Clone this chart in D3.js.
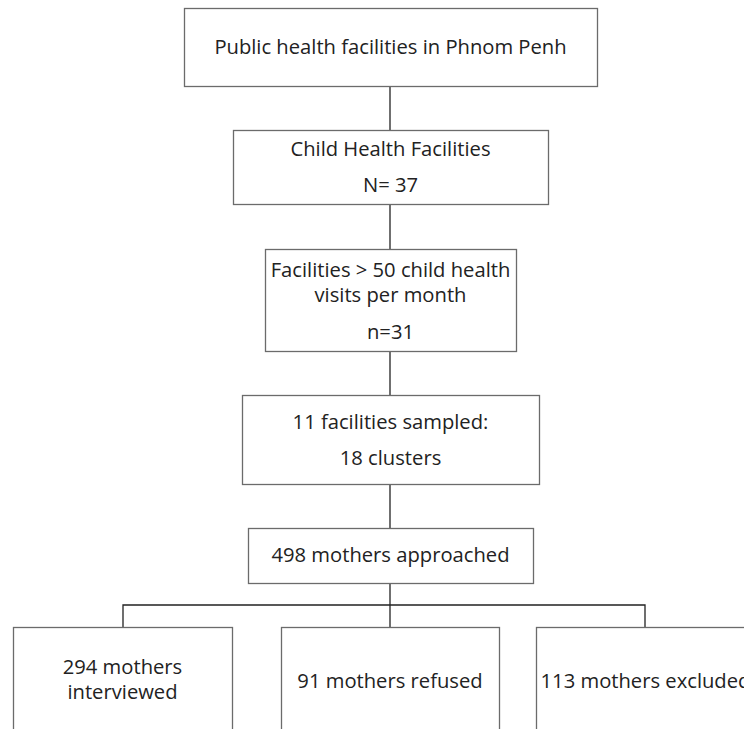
<!DOCTYPE html>
<meta charset="utf-8">
<body style="margin:0;background:#fff">
<script src="https://cdn.jsdelivr.net/npm/d3@7"></script>
<style>
svg { display:block; }
.box { fill:#fff; stroke:#6b6b6b; stroke-width:1.3; }
.link { fill:none; stroke:#222; stroke-width:1.3; }
.lbl { font-family:"Open Sans", sans-serif; font-size:20.2px; fill:#222; text-anchor:middle; }
</style>
<svg id="chart" width="744" height="729"></svg>
<script>
// flow steps (text only)
var steps = [
  ["Public health facilities in Phnom Penh"],
  ["Child Health Facilities", "N= 37"],
  ["Facilities > 50 child health", "visits per month", "n=31"],
  ["11 facilities sampled:", "18 clusters"],
  ["498 mothers approached"]
];
var outcomes = [
  ["294 mothers", "interviewed"],
  ["91 mothers refused"],
  ["113 mothers excluded"]
];

// layout, kept apart from the text
var stepBox = [
  {x0:184, x1:597, y0:8,   y1:86,  ly:[47]},
  {x0:233, x1:548, y0:130, y1:204, ly:[149,185]},
  {x0:265, x1:516, y0:249, y1:351, ly:[270,295,332]},
  {x0:242, x1:539, y0:395, y1:484, ly:[422,458]},
  {x0:248, x1:533, y0:528, y1:583, ly:[555]}
];
var outBox = [
  {x0:13,  x1:232, y0:627, y1:740, ly:[667,692]},
  {x0:281, x1:499, y0:627, y1:740, ly:[681]},
  {x0:536, x1:755, y0:627, y1:740, ly:[681]}
];
var midX = 390, branchY = 605;

var svg = d3.select("#chart");

// connectors between steps
var links = [];
for (var i = 0; i < steps.length - 1; i++) {
  links.push([[midX, stepBox[i].y1], [midX, stepBox[i+1].y0]]);
}
links.push([[midX, stepBox[4].y1], [midX, outBox[1].y0]]);
var cx = outBox.map(function(b){ return (b.x0 + b.x1) / 2; });
links.push([[123, outBox[0].y0], [123, branchY], [645, branchY], [645, outBox[2].y0]]);

var line = d3.line();
svg.selectAll("path.link").data(links).enter().append("path")
  .attr("class", "link")
  .attr("d", line);

function drawBoxes(texts, layout) {
  var g = svg.append("g").selectAll("g").data(texts).enter().append("g");
  g.append("rect").attr("class", "box")
    .attr("x", function(d, i){ return layout[i].x0 + 0.5; })
    .attr("y", function(d, i){ return layout[i].y0 + 0.5; })
    .attr("width", function(d, i){ return layout[i].x1 - layout[i].x0; })
    .attr("height", function(d, i){ return layout[i].y1 - layout[i].y0; });
  g.each(function(d, i) {
    var b = layout[i];
    d3.select(this).selectAll("text").data(d).enter().append("text")
      .attr("class", "lbl")
      .attr("x", (b.x0 + b.x1) / 2)
      .attr("y", function(t, j){ return b.ly[j]; })
      .attr("dy", "0.35em")
      .text(function(t){ return t; });
  });
}
drawBoxes(steps, stepBox);
drawBoxes(outcomes, outBox);
</script>
</body>
